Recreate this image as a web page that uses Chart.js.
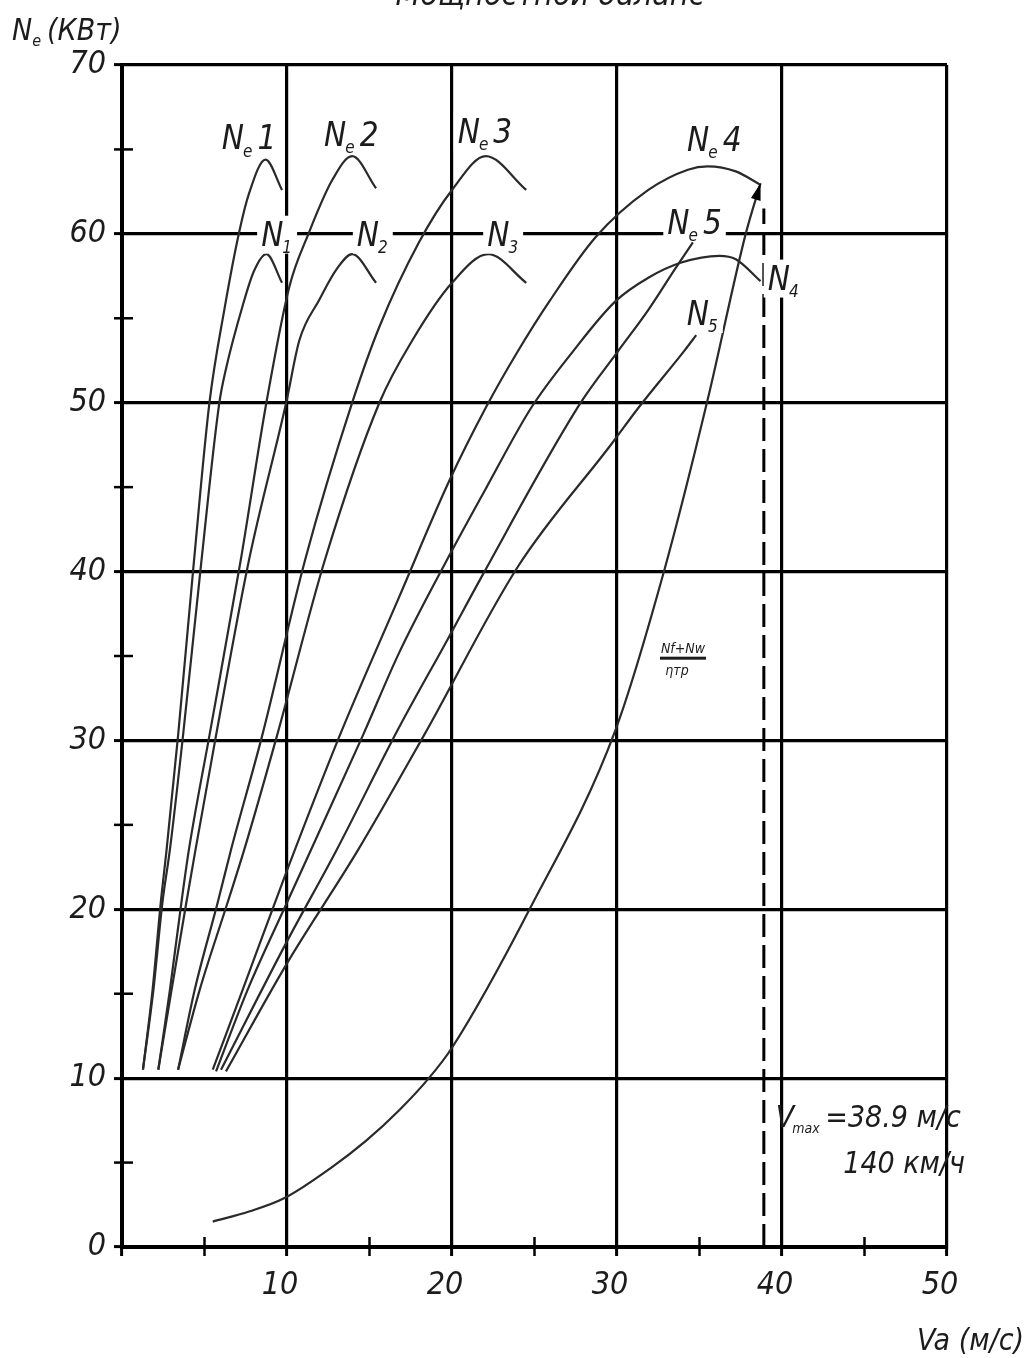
<!DOCTYPE html>
<html lang="ru">
<head>
<meta charset="utf-8">
<title>Мощностной баланс</title>
<script src="https://cdn.jsdelivr.net/npm/chart.js@4.4.1/dist/chart.umd.min.js"></script>
<style>
  html, body { margin: 0; padding: 0; background: #fff; }
</style>
</head>
<body>
<canvas id="balance" width="1028" height="1358"></canvas>
<script>
// Va, м/с and N, кВт; Ne — engine power, Nт — at the wheels
const ne1V = [1.27, 1.85, 2.35, 2.7, 3.4, 4.35, 5.3, 6.2, 7.1, 7.7, 8.7, 9.7];
const ne1N = [10.5, 15.2, 20.4, 23.5, 30.3, 40.5, 50.0, 55.5, 60.1, 62.4, 64.4, 62.6];
const nt1V = [1.27, 1.9, 2.45, 2.9, 3.7, 4.8, 5.9, 6.3, 7.3, 8.0, 8.75, 9.7];
const nt1N = [10.5, 15.2, 20.4, 23.5, 30.3, 40.5, 50.0, 52.0, 55.7, 57.8, 58.8, 57.1];

const ne2V = [2.2, 2.9, 3.6, 4.05, 5.3, 7.2, 8.75, 10.15, 11.3, 12.75, 13.95, 15.4];
const ne2N = [10.5, 15.2, 20.4, 23.5, 30.3, 40.7, 50.0, 56.9, 60.0, 63.2, 64.6, 62.7];
const nt2V = [2.2, 3.0, 3.9, 4.45, 5.7, 7.7, 9.95, 10.75, 11.96, 13.0, 13.95, 15.4];
const nt2N = [10.5, 15.2, 20.4, 23.5, 30.3, 40.7, 50.0, 53.7, 56.1, 57.9, 58.8, 57.1];

const ne3V = [3.4, 4.4, 5.8, 6.6, 8.5, 11.1, 13.95, 15.6, 18.0, 20.0, 22.05, 24.5];
const ne3N = [10.5, 15.2, 20.4, 23.5, 30.3, 40.7, 50.0, 54.5, 59.5, 62.6, 64.6, 62.6];
const nt3V = [3.4, 4.7, 6.4, 7.4, 9.4, 12.3, 15.6, 17.6, 20.0, 22.2, 24.5];
const nt3N = [10.5, 15.2, 20.4, 23.5, 30.3, 40.7, 50.0, 53.7, 57.1, 58.8, 57.1];

const ne4V = [5.5, 7.3, 10.0, 13.2, 16.8, 19.8, 22.1, 23.9, 25.9, 28.7, 31.9, 34.3, 35.5, 37.2, 38.7];
const ne4N = [10.5, 15.2, 22.3, 30.3, 38.5, 45.3, 49.8, 52.9, 56.0, 59.8, 62.6, 63.8, 64.0, 63.7, 62.9];
const nt4V = [5.7, 7.6, 10.0, 14.6, 16.8, 19.7, 22.1, 24.8, 27.3, 29.9, 31.9, 33.9, 36.2, 37.2, 38.7];
const nt4N = [10.4, 15.2, 20.4, 30.3, 35.2, 40.7, 45.0, 49.7, 53.0, 56.0, 57.4, 58.3, 58.7, 58.5, 57.2];

const ne5V = [6.0, 10.0, 13.0, 16.7, 19.8, 21.8, 27.8, 30.1, 31.9, 33.5, 34.6];
const ne5N = [10.5, 18.1, 23.5, 30.6, 36.1, 39.7, 50.0, 53.1, 55.5, 57.9, 59.5];
const nt5V = [6.3, 10.0, 14.3, 18.3, 24.0, 29.7, 31.3, 34.1, 34.8];
const nt5N = [10.4, 16.8, 23.5, 30.3, 40.3, 47.6, 49.7, 53.1, 54.0];

// (Nf + Nw) / ηтр — power spent on road and air resistance
const resV = [5.5, 7.7, 9.85, 12.75, 14.8, 16.8, 18.6, 20.0, 24.7, 29.9, 32.9, 35.5, 37.8, 38.7];
const resN = [1.5, 2.1, 2.9, 4.75, 6.3, 8.1, 10.0, 11.8, 20.0, 30.6, 40.2, 50.2, 60.0, 63.0];

const vMax = 38.9;       // м/с
const vMaxKmh = 140;     // км/ч
const vMaxTop = 61.5;    // dashed line ends here, кВт

const xTicks = [0, 10, 20, 30, 40, 50];
const yTicks = [0, 10, 20, 30, 40, 50, 60, 70];

const FAMILY = '"Liberation Sans Narrow", "DejaVu Sans Condensed", "Liberation Sans", sans-serif';
const INK = '#1c1c1c';

function pts(vs, ns) {
  return vs.map((v, i) => ({ x: v, y: ns[i] }));
}

function curve(vs, ns) {
  return {
    data: pts(vs, ns),
    showLine: true,
    borderColor: '#2a2a2a',
    borderWidth: 2.2,
    pointRadius: 0,
    cubicInterpolationMode: 'monotone',
    fill: false
  };
}

const datasets = [
  curve(ne1V, ne1N), curve(nt1V, nt1N),
  curve(ne2V, ne2N), curve(nt2V, nt2N),
  curve(ne3V, ne3N), curve(nt3V, nt3N),
  curve(ne4V, ne4N), curve(nt4V, nt4N),
  curve(ne5V, ne5N), curve(nt5V, nt5N),
  curve(resV, resN),
  {
    data: pts([vMax, vMax], [0, vMaxTop]),
    showLine: true,
    borderColor: '#000',
    borderWidth: 3,
    borderDash: [23, 8],
    pointRadius: 0,
    tension: 0,
    fill: false
  }
];
const RES_INDEX = 10;

// curve captions: [letter, subscript, tail] and where they sit (v, N)
const captions = [
  { t: ['N', 'е', '1'], at: [7.7, 65.7] },
  { t: ['N', 'е', '2'], at: [13.9, 65.9] },
  { t: ['N', 'е', '3'], at: [22.0, 66.1] },
  { t: ['N', 'е', '4'], at: [35.9, 65.6] },
  { t: ['N', 'е', '5'], at: [34.7, 60.7] },
  { t: ['N', '1', ''], at: [9.4, 60.0] },
  { t: ['N', '2', ''], at: [15.2, 60.0] },
  { t: ['N', '3', ''], at: [23.1, 60.0] },
  { t: ['N', '4', ''], at: [40.1, 57.4] },
  { t: ['N', '5', ''], at: [35.2, 55.3] }
];

function font(size) {
  return 'italic ' + size + 'px ' + FAMILY;
}

// draws N + subscript + tail centred on (cx, cy), optionally on white
function drawCaption(ctx, parts, cx, cy, size, knockout) {
  const small = Math.round(size * 0.5);
  const gap = parts[2] ? 4 : 0;
  ctx.font = font(size);
  const w0 = ctx.measureText(parts[0]).width;
  const w2 = parts[2] ? ctx.measureText(parts[2]).width : 0;
  ctx.font = font(small);
  const w1 = ctx.measureText(parts[1]).width;
  const total = w0 + w1 + gap + w2;
  let x = cx - total / 2;
  const base = cy + size * 0.36;
  if (knockout) {
    ctx.fillStyle = '#fff';
    ctx.fillRect(x - 4, cy - size * 0.55, total + 8, size * 1.15);
  }
  ctx.fillStyle = INK;
  ctx.textAlign = 'left';
  ctx.textBaseline = 'alphabetic';
  ctx.font = font(size);
  ctx.fillText(parts[0], x, base);
  x += w0;
  ctx.font = font(small);
  ctx.fillText(parts[1], x - 1, base + size * 0.22);
  x += w1 + gap;
  if (parts[2]) {
    ctx.font = font(size);
    ctx.fillText(parts[2], x, base);
  }
}

const extras = {
  id: 'extras',
  afterDraw(chart) {
    const { ctx, chartArea: a, scales: { x, y } } = chart;
    ctx.save();

    // minor ticks on the axes every 5 units
    ctx.strokeStyle = '#000';
    ctx.lineWidth = 2.5;
    for (let v = 5; v < 50; v += 10) {
      const px = x.getPixelForValue(v);
      ctx.beginPath();
      ctx.moveTo(px, a.bottom - 10);
      ctx.lineTo(px, a.bottom + 9);
      ctx.stroke();
    }
    for (let n = 5; n < 70; n += 10) {
      const py = y.getPixelForValue(n);
      ctx.beginPath();
      ctx.moveTo(a.left - 8, py);
      ctx.lineTo(a.left + 11, py);
      ctx.stroke();
    }

    // arrow at the end of the resistance curve
    const meta = chart.getDatasetMeta(RES_INDEX).data;
    const p1 = meta[meta.length - 1], p0 = meta[meta.length - 2];
    const ang = Math.atan2(p1.y - p0.y, p1.x - p0.x);
    ctx.fillStyle = '#000';
    ctx.beginPath();
    ctx.moveTo(p1.x, p1.y);
    ctx.lineTo(p1.x - 17 * Math.cos(ang) + 5 * Math.sin(ang), p1.y - 17 * Math.sin(ang) - 5 * Math.cos(ang));
    ctx.lineTo(p1.x - 17 * Math.cos(ang) - 5 * Math.sin(ang), p1.y - 17 * Math.sin(ang) + 5 * Math.cos(ang));
    ctx.closePath();
    ctx.fill();

    // curve captions
    captions.forEach(c => {
      drawCaption(ctx, c.t, x.getPixelForValue(c.at[0]), y.getPixelForValue(c.at[1]), 33, true);
    });

    // (Nf + Nw) / ηтр
    const fx = x.getPixelForValue(34.0), fy = y.getPixelForValue(34.9);
    ctx.fillStyle = INK;
    ctx.textAlign = 'center';
    ctx.textBaseline = 'alphabetic';
    ctx.font = font(14);
    ctx.fillText('Nf+Nw', fx, fy - 5);
    ctx.fillRect(fx - 23, fy - 1, 46, 3);
    ctx.fillText('ηтр', fx - 6, fy + 17);

    // Vmax note
    ctx.font = font(30);
    ctx.textAlign = 'left';
    const tx = x.getPixelForValue(vMax) + 12;
    ctx.fillText('V', tx, 1127);
    const vw = ctx.measureText('V').width;
    ctx.font = font(14);
    ctx.fillText('max', tx + vw - 2, 1133);
    const mw = ctx.measureText('max').width;
    ctx.font = font(30);
    ctx.fillText(' =' + vMax.toFixed(1) + ' м/с', tx + vw + mw - 5, 1127);
    ctx.textAlign = 'right';
    ctx.fillText(vMaxKmh + ' км/ч', 965, 1173);

    // axis titles
    ctx.textAlign = 'left';
    ctx.font = font(30);
    ctx.fillText('N', 12, 40);
    const nw = ctx.measureText('N').width;
    ctx.font = font(16);
    ctx.fillText('е', 12 + nw, 46);
    ctx.font = font(30);
    ctx.fillText('(КВт)', 47, 40);
    ctx.textAlign = 'right';
    ctx.fillText('Va (м/с)', 1024, 1350);

    // heading, cut by the top edge of the sheet
    ctx.textAlign = 'center';
    ctx.font = font(32);
    ctx.fillText('Мощностной баланс', 550, 5);

    ctx.restore();
  }
};

const tickFont = { family: FAMILY, size: 32, style: 'italic' };

new Chart(document.getElementById('balance'), {
  type: 'scatter',
  data: { datasets },
  options: {
    responsive: false,
    animation: false,
    layout: { padding: { top: 65, right: 81, left: 0, bottom: 0 } },
    plugins: {
      legend: { display: false },
      tooltip: { enabled: false }
    },
    scales: {
      x: {
        type: 'linear',
        min: xTicks[0],
        max: xTicks[xTicks.length - 1],
        afterFit: s => { s.height = 111; },
        afterBuildTicks: s => { s.ticks = xTicks.map(v => ({ value: v })); },
        ticks: {
          callback: v => (v === 0 ? '' : v),
          font: tickFont,
          color: INK,
          padding: 10,
          labelOffset: -7,
          maxRotation: 0
        },
        grid: { color: '#000', lineWidth: 3.2, tickLength: 9, tickColor: '#000', tickWidth: 3 },
        border: { color: '#000', width: 4 }
      },
      y: {
        type: 'linear',
        min: yTicks[0],
        max: yTicks[yTicks.length - 1],
        afterFit: s => { s.width = 122; },
        afterBuildTicks: s => { s.ticks = yTicks.map(v => ({ value: v })); },
        ticks: {
          font: tickFont,
          color: INK,
          padding: 8
        },
        grid: { color: '#000', lineWidth: 3.2, tickLength: 8, tickColor: '#000', tickWidth: 3 },
        border: { color: '#000', width: 4 }
      }
    }
  },
  plugins: [extras]
});
</script>
</body>
</html>
